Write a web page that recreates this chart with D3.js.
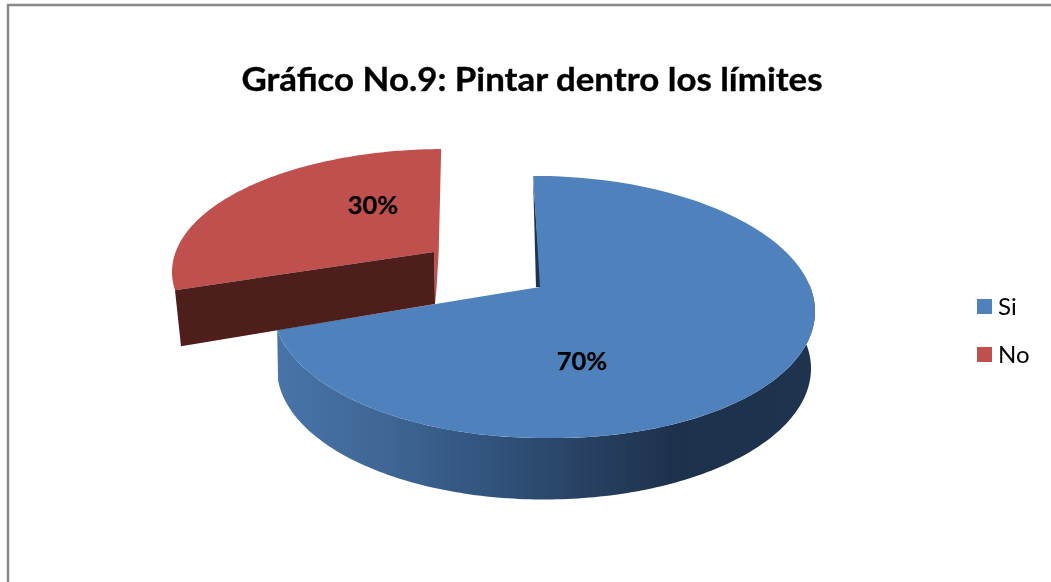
<!DOCTYPE html>
<html>
<head>
<meta charset="utf-8">
<script src="https://cdn.jsdelivr.net/npm/d3@7"></script>
<style>
html,body{margin:0;padding:0;background:#fff;overflow:hidden}
svg{display:block;filter:blur(0.45px)}
text{font-family:Lato,"Open Sans",sans-serif;fill:#000}
</style>
</head>
<body>
<svg id="chart" width="1051" height="582"></svg>
<script>
const title = "Gráfico No.9: Pintar dentro los límites";
const categories = ["Si", "No"];
const values = [70, 30];
const colors = ["#4f81bd", "#c0504d"];

const svg = d3.select("#chart");
const rad = d => d * Math.PI / 180;

// 3D look: each slice sits on its own ellipse, pie angles are warped by the perspective.
const geom = [
  { e:{cx:544,cy:307,rx:271,ry:131,tilt:4.5}, b:{cx:544,cy:368.5,rx:267,ry:131,tilt:0}, apex:[540,287], warp:[-2.3,259.9], lab:[582,361] },
  { e:{cx:445,cy:272,rx:273,ry:123,tilt:0}, apex:[434,252], apexLow:[435,304], rimShift:[6,56], warp:[261.5,359.2], lab:[373,205] }
];

const arcs = d3.pie().sort(null).value(d => d)(values);
const pct = d3.format(".0%");
const total = d3.sum(values);
const line = d3.line();
const pt = (e, t) => [e.cx + e.rx * Math.sin(rad(t)), e.cy - e.ry * Math.cos(rad(t)) + e.tilt * Math.max(0, Math.sin(rad(t)))];
const sweep = (e, a, b, n = 160) => d3.range(n + 1).map(i => pt(e, a + (b - a) * i / n));

// frame
svg.append("path").attr("d", "M8,582V5H1051").attr("fill", "none").attr("stroke", "#888").attr("stroke-width", 2.4);

// wall gradient
const grad = svg.append("defs").append("linearGradient").attr("id", "wall")
  .attr("gradientUnits", "userSpaceOnUse").attr("x1", 276).attr("x2", 810).attr("y1", 0).attr("y2", 0);
[[0,"#4874a9"],[0.2,"#3f6795"],[0.42,"#30517a"],[0.62,"#253d5c"],[0.75,"#1d314c"],[1,"#1e334e"]]
  .forEach(([o, c]) => grad.append("stop").attr("offset", o).attr("stop-color", c));

// Si slice
const warpSi = d3.scaleLinear().domain([arcs[0].startAngle, arcs[0].endAngle]).range(geom[0].warp);
const warpNo = d3.scaleLinear().domain([arcs[1].startAngle, arcs[1].endAngle]).range(geom[1].warp);
const si = geom[0], no = geom[1];
const siA = warpSi(arcs[0].startAngle), siB = warpSi(arcs[0].endAngle);

svg.append("path").attr("fill", "url(#wall)")
  .attr("d", line([...sweep(si.e, 78, siB), ...sweep(si.b, siB + 5, 78)]) + "Z");
const siStart = pt(si.e, siA);
svg.append("path").attr("fill", "#1e334e")
  .attr("d", line([[siStart[0], siStart[1] + 3], [si.apex[0] - 4, si.apex[1]], [si.apex[0] + 1, si.apex[1]]]) + "Z");
svg.append("path").attr("fill", colors[0])
  .attr("d", line([si.apex, ...sweep(si.e, siA, siB)]) + "Z");

// No slice
const noA = warpNo(arcs[1].startAngle), noB = warpNo(arcs[1].endAngle);
const rim = pt(no.e, noA), rimTop = pt(no.e, noB);
svg.append("path").attr("fill", colors[1])
  .attr("d", line([no.apex, ...sweep(no.e, noA, noB), [rimTop[0] - 2.5, no.apex[1]], [no.apexLow[0] + 1.5, 288], no.apexLow]) + "Z");
svg.append("path").attr("fill", "#4d1e1c")
  .attr("d", line([rim, no.apex, no.apexLow, [rim[0] + no.rimShift[0], rim[1] + no.rimShift[1]]]) + "Z");

// title
svg.append("text").attr("x", 532).attr("y", 91).attr("text-anchor", "middle")
  .attr("font-size", 32.5).attr("font-weight", 700).attr("textLength", 581).attr("lengthAdjust", "spacingAndGlyphs")
  .attr("stroke", "#000").attr("stroke-width", 0.35).text(title);

// data labels
svg.selectAll("text.lab").data(arcs).enter().append("text").attr("class", "lab")
  .attr("x", (d, i) => geom[i].lab[0]).attr("y", (d, i) => geom[i].lab[1] + 9)
  .attr("text-anchor", "middle").attr("font-size", 25.5).attr("font-weight", 700)
  .attr("stroke", "#000").attr("stroke-width", 0.25)
  .text(d => pct(d.value / total));

// legend
const legendY = d3.scalePoint().domain(categories).range([306.5, 354.5]);
const lg = svg.selectAll("g.lg").data(categories).enter().append("g").attr("class", "lg");
lg.append("rect").attr("x", 977).attr("y", d => legendY(d) - 7.5).attr("width", 15).attr("height", 15)
  .attr("fill", (d, i) => colors[i]);
lg.append("text").attr("x", 998).attr("y", d => legendY(d) + 8.5).attr("font-size", 24).text(d => d);
</script>
</body>
</html>
